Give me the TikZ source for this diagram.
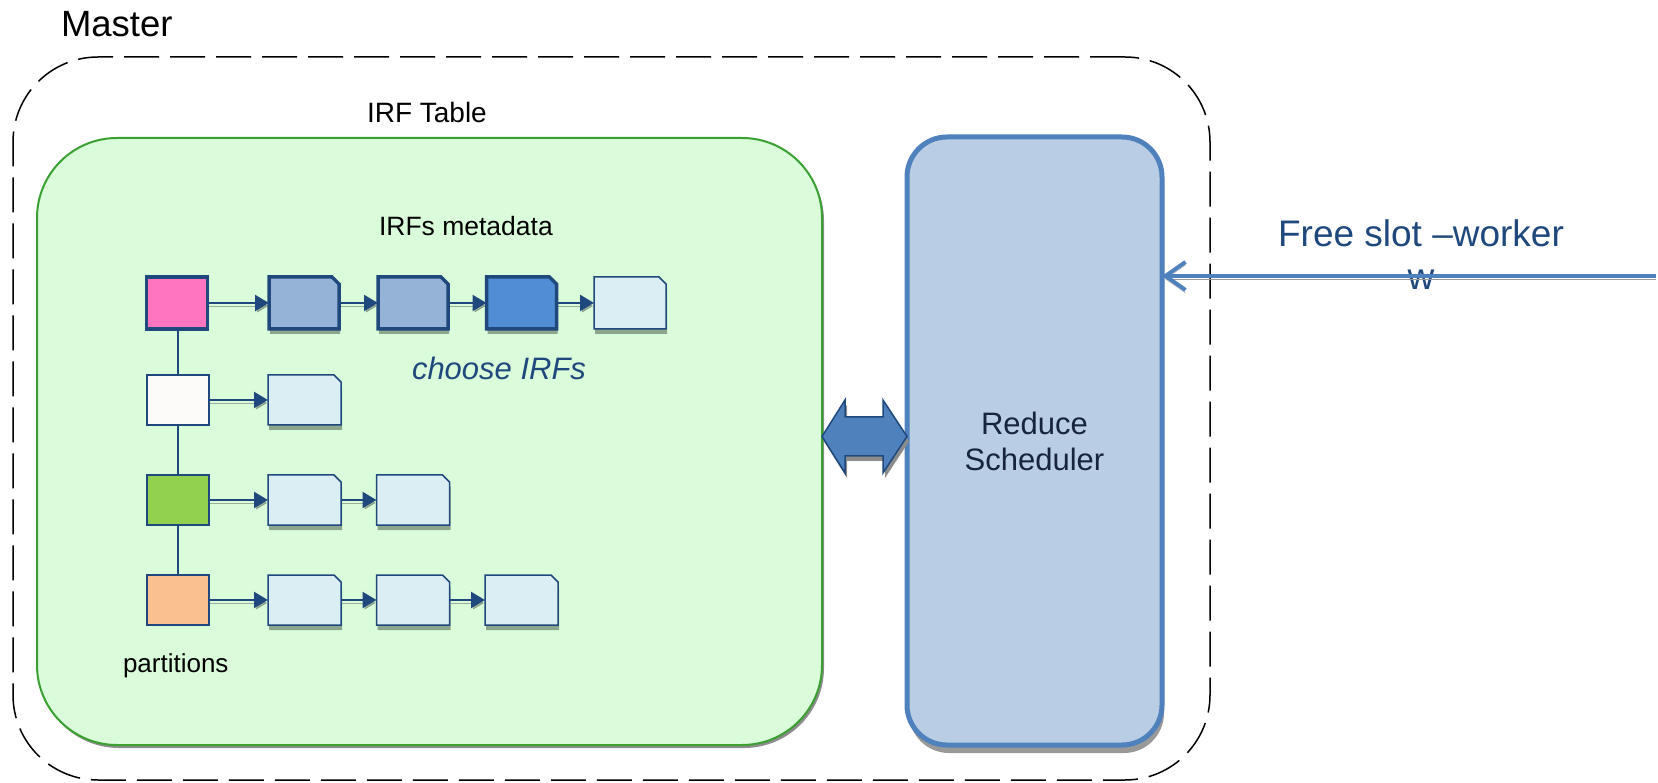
\documentclass[tikz,border=0pt]{standalone}
\usepackage{fontspec}
\setmainfont{Liberation Sans}
\usetikzlibrary{shadows,arrows.meta,calc}

\definecolor{navy}{RGB}{31,73,125}
\definecolor{inknavy}{RGB}{22,36,60}
\definecolor{steel}{RGB}{79,129,189}
\definecolor{schedfill}{RGB}{185,205,229}
\definecolor{tablefill}{RGB}{218,252,218}
\definecolor{tableline}{RGB}{58,160,50}
\definecolor{pinkfill}{RGB}{255,117,192}
\definecolor{whitefill}{RGB}{252,251,250}
\definecolor{limefill}{RGB}{146,208,80}
\definecolor{peachfill}{RGB}{250,192,144}
\definecolor{docmid}{RGB}{149,179,215}
\definecolor{docdeep}{RGB}{80,141,212}
\definecolor{doclight}{RGB}{219,238,244}

\tikzset{
  masterbox/.style={draw=black, line width=1.5pt, dash pattern=on 35pt off 11pt,
    rounded corners=85pt, inner sep=0, outer sep=0},
  tablebox/.style={draw=tableline, fill=tablefill, line width=2pt, rounded corners=80pt,
    inner sep=0, outer sep=0,
    drop shadow={shadow xshift=2pt, shadow yshift=-3pt, fill=black!45, opacity=1}},
  schedbox/.style={draw=steel, fill=schedfill, line width=5pt, rounded corners=40pt,
    inner sep=0, outer sep=0, align=center, text=inknavy,
    font=\fontsize{31}{36}\selectfont,
    drop shadow={shadow xshift=2pt, shadow yshift=-8pt, fill=black!40, opacity=1}},
  part/.style={draw=navy, line width=1.5pt, inner sep=0, outer sep=0,
    minimum width=62pt, minimum height=50pt},
  parthead/.style={part, line width=3.5pt, minimum width=61pt, minimum height=52pt},
  % geometry of an IRF entry; its dog-eared outline is drawn by \irfoutline
  irfslot/.style={rectangle, inner sep=0, outer sep=0, minimum width=73pt, minimum height=50pt},
  irfsloth/.style={irfslot, minimum width=70pt, minimum height=52pt},
  irfline/.style={draw=navy, line width=1.5pt, fill=doclight, line join=miter,
    drop shadow={shadow xshift=1pt, shadow yshift=-5pt, fill=black, opacity=.35}},
  irfthick/.style={irfline, line width=3.5pt},
  link/.style={draw=navy, line width=2.5pt, -{Triangle[length=14pt,width=16pt]},
    preaction={draw=black, opacity=.3, transform canvas={shift={(1pt,-3pt)}}}},
  chain/.style={draw=navy, line width=2pt},
  plain/.style={inner sep=0, outer sep=0},
}

% dog-eared document outline around a named node
\newcommand\irfoutline[2]{%
  \draw[#2] (#1.north west) -- ([xshift=-7pt]#1.north east)
    -- ([yshift=-7pt]#1.north east) -- (#1.south east) -- (#1.south west) -- cycle;}

\begin{document}
\begin{tikzpicture}[x=1pt,y=-1pt]
\useasboundingbox (0,0) rectangle (1658,783);

% master enclosure
\node[masterbox, minimum width=1197pt, minimum height=723pt] (master) at (611.5,418.5) {};
\node[plain, anchor=base west, font=\fontsize{36.5}{42}\selectfont] (mastertitle) at (61,37) {Master};

% IRF table
\node[tablebox, minimum width=785pt, minimum height=607pt] (table) at (429.5,441.5) {};
\node[plain, anchor=base west, font=\fontsize{28}{34}\selectfont] (tabletitle) at (367,123) {IRF Table};
\node[plain, anchor=base west, font=\fontsize{26.5}{32}\selectfont] (metatitle) at (379,236) {IRFs metadata};
\node[plain, anchor=base west, text=navy, font=\fontsize{31}{36}\selectfont\itshape] (choose) at (412,380) {choose IRFs};
\node[plain, anchor=base west, font=\fontsize{26}{32}\selectfont] (partlabel) at (123,672) {partitions};

% reduce scheduler
\node[schedbox, minimum width=255pt, minimum height=608pt] (sched) at (1034.5,441) {Reduce\\Scheduler};

% partitions
\node[parthead, fill=pinkfill] (p1) at (177,303) {};
\node[part, fill=whitefill] (p2) at (178,400) {};
\node[part, fill=limefill] (p3) at (178,500) {};
\node[part, fill=peachfill] (p4) at (178,600) {};

% IRF chains
\node[irfsloth] (a1) at (304,303) {};
\node[irfsloth] (a2) at (413,303) {};
\node[irfsloth] (a3) at (521.5,303) {};
\node[irfslot, minimum width=72pt, minimum height=52pt] (a4) at (630,303) {};
\node[irfslot] (b1) at (304.5,400) {};
\node[irfslot] (c1) at (304.5,500) {};
\node[irfslot] (c2) at (413,500) {};
\node[irfslot] (d1) at (304.5,600) {};
\node[irfslot] (d2) at (413,600) {};
\node[irfslot] (d3) at (521.5,600) {};

\irfoutline{a1}{irfthick, fill=docmid}
\irfoutline{a2}{irfthick, fill=docmid}
\irfoutline{a3}{irfthick, fill=docdeep}
\irfoutline{a4}{irfline}
\irfoutline{b1}{irfline}
\irfoutline{c1}{irfline}
\irfoutline{c2}{irfline}
\irfoutline{d1}{irfline}
\irfoutline{d2}{irfline}
\irfoutline{d3}{irfline}

\draw[chain] (p1.south -| p2.north) -- (p2.north);
\draw[chain] (p2) -- (p3);
\draw[chain] (p3) -- (p4);

\draw[link] (p1) -- (a1);
\draw[link] (a1) -- (a2);
\draw[link] (a2) -- (a3);
\draw[link] (a3) -- (a4);
\draw[link] (p2) -- (b1);
\draw[link] (p3) -- (c1);
\draw[link] (c1) -- (c2);
\draw[link] (p4) -- (d1);
\draw[link] (d1) -- (d2);
\draw[link] (d2) -- (d3);

% two-way exchange between table and scheduler
\coordinate (dl) at (table.east |- 0,436.5);
\coordinate (dr) at (sched.west |- 0,436.5);
\draw[draw=navy, fill=steel, line width=1.5pt,
      drop shadow={shadow xshift=2pt, shadow yshift=-5pt, fill=black!45, opacity=1}]
  (dl) -- ++(23,-36.5) -- ++(0,17) -- ($(dr)+(-24,-19.5)$) -- ++(0,-17) -- (dr)
  -- ++(-24,36.5) -- ++(0,-17) -- ($(dl)+(23,19.5)$) -- ++(0,17) -- cycle;

% incoming free slot
\node[plain, align=center, text=navy, font=\fontsize{37}{43}\selectfont] (slot) at (1421,255) {Free slot –worker\\w};
\coordinate (src) at (1656,276);
\draw[draw=steel, line width=4pt, -{Straight Barb[length=20pt,width=28pt]},
      preaction={draw=black!40, transform canvas={shift={(0pt,-3pt)}}}]
  (src) -- (sched.east |- src);
\end{tikzpicture}
\end{document}
